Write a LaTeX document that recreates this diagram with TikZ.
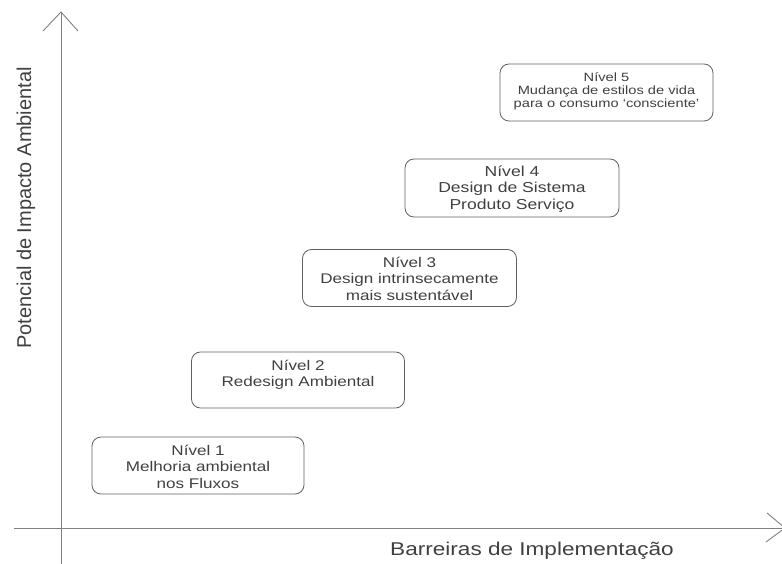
\documentclass[tikz,border=0pt]{standalone}
\usepackage{fontspec}
\setmainfont{Liberation Sans}[FakeStretch=1.22]
\newfontfamily\plainsans{Liberation Sans}
\usetikzlibrary{calc}
\begin{document}
\begin{tikzpicture}[x=1pt,y=-1pt,
  lvlbox/.style={draw=black!62, line width=0.8pt, rounded corners=9pt, inner sep=0pt, minimum width=213pt, minimum height=57pt},
  lvltext/.style={text=black!75, align=center, font=\fontsize{14}{16.5}\selectfont, inner sep=0pt},
  lvltextsmall/.style={lvltext, font=\fontsize{12}{13.3}\selectfont},
  axis/.style={draw=black!50, line width=0.9pt},
  axlabel/.style={text=black!75, inner sep=0pt}]
\useasboundingbox (0,0) rectangle (782,564);
% axes
\coordinate (yb) at (61,564);
\coordinate (yt) at (61,12);
\coordinate (xl) at (14,528);
\coordinate (xr) at (785,528);
\draw[axis] (yb) -- (yt);
\draw[axis] ($(yt)+(-18,19)$) -- (yt) -- ($(yt)+(17,19)$);
\draw[axis] (xl) -- (xr);
\draw[axis] ($(xr)+(-18,-15)$) -- (xr) -- ($(xr)+(-19,14)$);
% boxes
\node[lvlbox] (n5) at (606.5,92.5) {};
\node[lvlbox, minimum width=214pt, minimum height=58pt] (n4) at (512,188) {};
\node[lvlbox, minimum width=214pt] (n3) at (409.5,278) {};
\node[lvlbox, minimum height=56pt] (n2) at (298,380) {};
\node[lvlbox, minimum width=212pt] (n1) at (198,465.5) {};
% box texts
\node[lvltextsmall] (t5) at ($(n5.center)+(0,-1)$) {Nível 5\\Mudança de estilos de vida\\para o consumo ‘consciente’};
\node[lvltext, font=\fontsize{14.4}{16.5}\selectfont] (t4) at ($(n4.center)+(0,1)$) {Nível 4\\Design de Sistema\\Produto Serviço};
\node[lvltext] (t3) at ($(n3.center)+(0,0.5)$) {Nível 3\\Design intrinsecamente\\mais sustentável};
\node[lvltext] (t2) at ($(n2.center)+(0,-5)$) {Nível 2\\Redesign Ambiental};
\node[lvltext] (t1) at ($(n1.center)+(0,1)$) {Nível 1\\Melhoria ambiental\\nos Fluxos};
% axis labels
\node[axlabel, rotate=90, font=\plainsans\fontsize{20}{22}\selectfont] (ly) at (26,208) {Potencial de Impacto Ambiental};
\node[axlabel, font=\fontsize{18.5}{21}\selectfont] (lx) at (532,551) {Barreiras de Implementação};
\end{tikzpicture}
\end{document}
